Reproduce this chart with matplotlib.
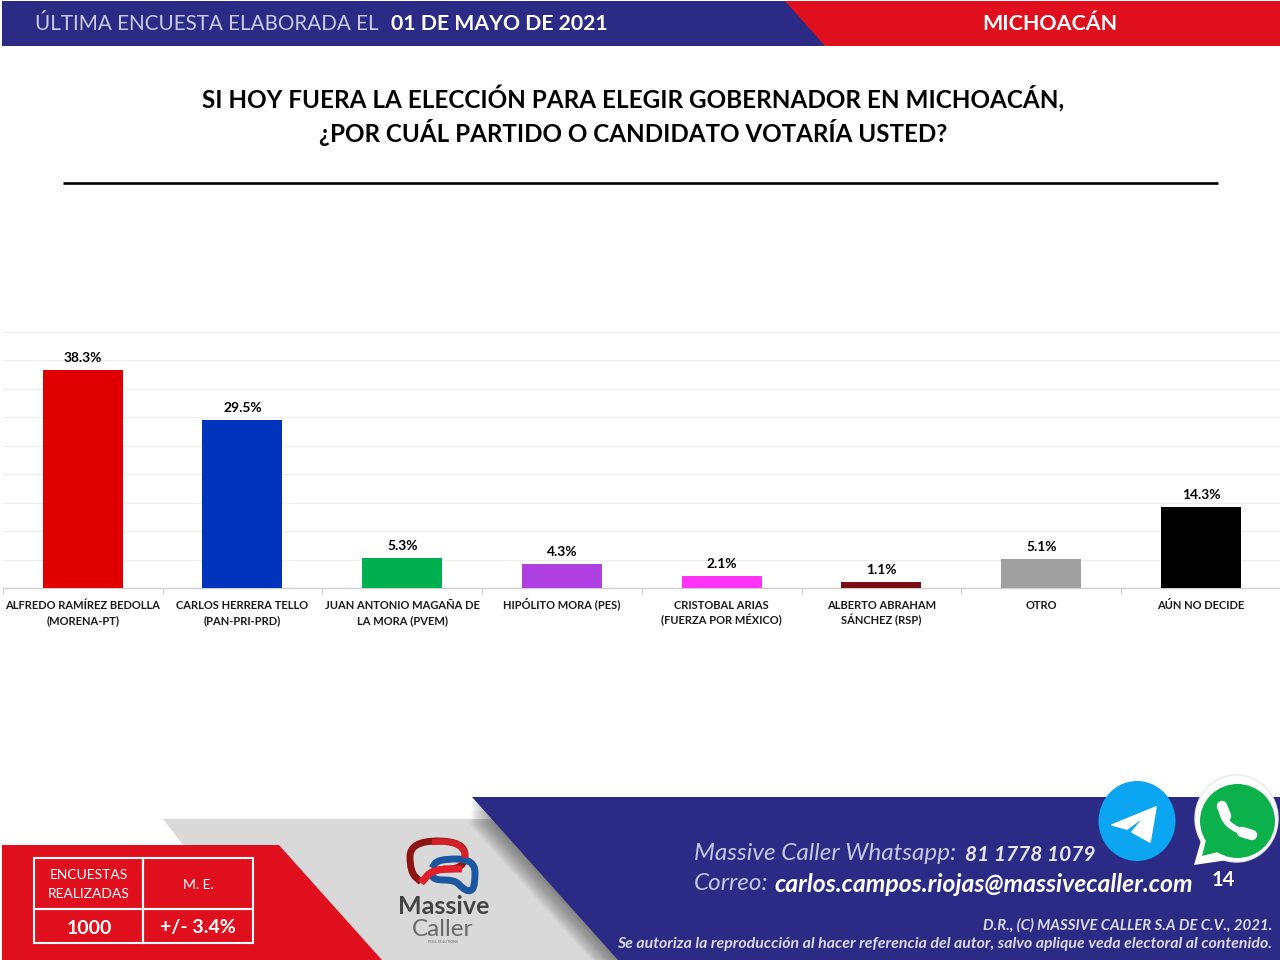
import matplotlib
matplotlib.use("Agg")
import matplotlib.pyplot as plt
from matplotlib.patches import Polygon, Ellipse, Rectangle, PathPatch
from matplotlib.path import Path

categories = ["ALFREDO RAMÍREZ BEDOLLA\n(MORENA-PT)", "CARLOS HERRERA TELLO\n(PAN-PRI-PRD)",
              "JUAN ANTONIO MAGAÑA DE\nLA MORA (PVEM)", "HIPÓLITO MORA (PES)",
              "CRISTOBAL ARIAS\n(FUERZA POR MÉXICO)", "ALBERTO ABRAHAM\nSÁNCHEZ (RSP)",
              "OTRO", "AÚN NO DECIDE"]
values = [38.3, 29.5, 5.3, 4.3, 2.1, 1.1, 5.1, 14.3]
colors = ["#E10000", "#0033BB", "#00B050", "#AE3FE0", "#FF33F5", "#7A0C12", "#A0A0A0", "#000000"]
y_ticks = [0, 5, 10, 15, 20, 25, 30, 35, 40, 45]

RED, NAVY = "#E00F1E", "#2B2A85"
FONT = "Lato"
plt.rcParams["font.family"] = [FONT, "DejaVu Sans"]

W, H = 1280, 960
fig = plt.figure(figsize=(12.8, 9.6), dpi=100, facecolor="white")

bg = fig.add_axes([0, 0, 1, 1], zorder=0)
bg.set_xlim(0, W); bg.set_ylim(H, 0); bg.axis("off")

def poly(pts, color, ax=bg, **kw):
    ax.add_patch(Polygon(pts, closed=True, facecolor=color, edgecolor="none", **kw))

def txt(x, y, s, size, color="black", weight="normal", style="normal", ha="center", va="center", **kw):
    return bg.text(x, y, s, fontsize=size, color=color, fontweight=weight, fontstyle=style, ha=ha, va=va, **kw)

def smooth(points, color, lw, zorder):
    """Rounded stroke through the given pixel corners."""
    verts = [points[0]]
    codes = [Path.MOVETO]
    for i in range(1, len(points) - 1):
        (x0, y0), (x1, y1), (x2, y2) = points[i - 1], points[i], points[i + 1]
        verts += [((x0 + x1) / 2, (y0 + y1) / 2), (x1, y1), ((x1 + x2) / 2, (y1 + y2) / 2)]
        codes += [Path.LINETO, Path.CURVE3, Path.CURVE3]
    verts.append(points[-1]); codes.append(Path.LINETO)
    bg.add_patch(PathPatch(Path(verts, codes), fill=False, edgecolor=color, lw=lw,
                           capstyle="butt", joinstyle="round", zorder=zorder))

# header
poly([(2, 1), (800, 1), (825, 46), (2, 46)], NAVY)
poly([(785, 1), (1280, 1), (1280, 46), (825, 46)], RED)
txt(35, 24, "ÚLTIMA ENCUESTA ELABORADA EL", 14.9, "#C9CBE6", ha="left")
txt(391, 24, "01 DE MAYO DE 2021", 15.3, "white", "bold", ha="left")
txt(1050, 24, "MICHOACÁN", 15.4, "white", "bold")

# title
txt(633, 99, "SI HOY FUERA LA ELECCIÓN PARA ELEGIR GOBERNADOR EN MICHOACÁN,", 17.5, "black", "bold")
txt(633, 133, "¿POR CUÁL PARTIDO O CANDIDATO VOTARÍA USTED?", 17.4, "black", "bold")
bg.plot([63, 1218], [183, 183], color="black", lw=1.9, solid_capstyle="butt")

# footer shapes
poly([(163, 819), (560, 819), (640, 960), (382, 960), (279, 845), (183, 845)], "#D9D9D9", zorder=1)
slope = (618 - 472) / (960 - 797)
for k in range(1, 31, 1):
    top = 797 + k * 0.9
    poly([(472 + (top - 797) * slope - k * 0.9, top), (640, top), (640, 960), (618 - k * 0.9, 960)],
         "#444444", alpha=0.022, zorder=2)
poly([(472, 797), (1280, 797), (1280, 960), (618, 960)], NAVY, zorder=3)
poly([(2, 845), (279, 845), (382, 960), (2, 960)], RED, zorder=3)

# summary table
for x0, x1, y0, y1 in [(34, 143, 858, 909), (143, 253, 858, 909), (34, 143, 909, 943), (143, 253, 909, 943)]:
    bg.add_patch(Rectangle((x0, y0), x1 - x0, y1 - y0, fill=False, edgecolor="white", lw=1.5, zorder=4))
txt(89, 875, "ENCUESTAS", 10, "white", zorder=5)
txt(89, 894, "REALIZADAS", 10, "white", zorder=5)
txt(198, 885, "M. E.", 10, "white", zorder=5)
txt(89, 928, "1000", 14, "white", "bold", zorder=5)
txt(198, 928, "+/- 3.4%", 14, "white", "bold", zorder=5)

# logo
smooth([(421, 882), (410, 872), (410, 841), (465, 841), (465, 869), (433, 869), (422, 882)], "#8E1414", 5, 4)
smooth([(432, 868), (438, 859), (475, 859), (475, 886), (470, 892), (462, 888), (455, 880), (433, 880), (432, 872)], "#1B56A0", 5, 4)
smooth([(421, 883), (433, 869), (462, 869)], "#E31E2B", 5, 5)
smooth([(432, 842), (452, 841), (465, 850), (465, 858)], "#D3202B", 4.5, 5)
txt(443.5, 906, "Massive", 18, "#444444", "bold", zorder=5)
txt(443, 929, "Caller", 17.5, "#6A6A6A", zorder=5)
txt(443, 942, "POLL SOLUTIONS", 2.6, "#666666", zorder=5)

# contact text
txt(694, 854, "Massive Caller Whatsapp:", 17.5, "#C5C7E4", style="italic", ha="left", zorder=5)
txt(965, 855, "81 1778 1079", 15, "#E6E6F2", "bold", style="italic", ha="left", zorder=5)
txt(694, 884, "Correo:", 17.5, "#C5C7E4", style="italic", ha="left", zorder=5)
txt(774, 884, "carlos.campos.riojas@massivecaller.com", 17.8, "white", "bold", style="italic", ha="left", zorder=5)
txt(1223, 880, "14", 14.5, "white", "bold", zorder=5)
txt(1272, 925, "D.R., (C) MASSIVE CALLER S.A DE C.V., 2021.", 10.8, "#DADAE8", "bold", style="italic", ha="right", zorder=5)
txt(1272, 944, "Se autoriza la reproducción al hacer referencia del autor, salvo aplique veda electoral al contenido.",
    11.45, "#DADAE8", "bold", style="italic", ha="right", zorder=5)

# telegram icon
bg.add_patch(Ellipse((1137, 821), 77, 80, facecolor="#0BA5F2", edgecolor="none", zorder=6))
bg.add_patch(Polygon([(1112, 825), (1156, 807), (1150, 842), (1132, 832), (1146, 815), (1127, 829)],
                     closed=True, facecolor="white", edgecolor="white", lw=1.2, joinstyle="round", zorder=7))

# whatsapp icon
bg.add_patch(Ellipse((1236.5, 818.5), 83, 87, facecolor="white", edgecolor="#E8E8E8", lw=1, zorder=6))
poly([(1194, 865), (1204, 830), (1228, 860)], "white", zorder=6)
bg.add_patch(Ellipse((1237.5, 821), 75, 74, facecolor="#0DB14B", edgecolor="none", zorder=7))
poly([(1202, 856), (1208, 832), (1222, 851)], "#0DB14B", zorder=7)
phone = Path([(1222, 808), (1222, 828), (1251, 834)], [Path.MOVETO, Path.CURVE3, Path.CURVE3])
bg.add_patch(PathPatch(phone, fill=False, edgecolor="white", lw=4.5, capstyle="round", zorder=8))
bg.plot([1222, 1226], [806, 816], color="white", lw=7.5, solid_capstyle="round", zorder=8)
bg.plot([1242, 1252], [832, 835], color="white", lw=7.5, solid_capstyle="round", zorder=8)

# chart
left, right, top, bottom = 2.8, 1280.8, 332.0, 588.0
ax = fig.add_axes([left / W, 1 - bottom / H, (right - left) / W, (bottom - top) / H], zorder=2)
ax.patch.set_alpha(0)
xs = list(range(len(values)))
ax.bar(xs, values, width=0.5, color=colors, zorder=3)
ax.set_xlim(-0.5, 7.5)
ax.set_ylim(0, 45)
ax.set_yticks(y_ticks)
ax.grid(axis="y", color="#EDEDED", lw=0.8, zorder=0)
ax.tick_params(axis="y", length=0, labelleft=False)
for s in ("top", "left", "right"):
    ax.spines[s].set_visible(False)
ax.spines["bottom"].set_color("#D0D0D0")
ax.spines["bottom"].set_linewidth(1)
ax.set_xticks([i - 0.5 for i in range(9)])
ax.set_xticklabels([])
ax.tick_params(axis="x", length=4, color="#D0D0D0", direction="out")
for x, label in zip(xs, categories):
    for i, line in enumerate(label.split("\n")):
        ax.annotate(line, xy=(x, 0), xytext=(0, -14.8 - 11.5 * i), textcoords="offset points",
                    ha="center", va="baseline", fontsize=8, fontweight="bold", color="#1A1A1A")
for x, v in zip(xs, values):
    ax.annotate(f"{v:.1f}%", xy=(x, v), xytext=(0, 4.3), textcoords="offset points",
                ha="center", va="bottom", fontsize=9.9, fontweight="bold", color="black")

fig.savefig("out.png", dpi=100)
